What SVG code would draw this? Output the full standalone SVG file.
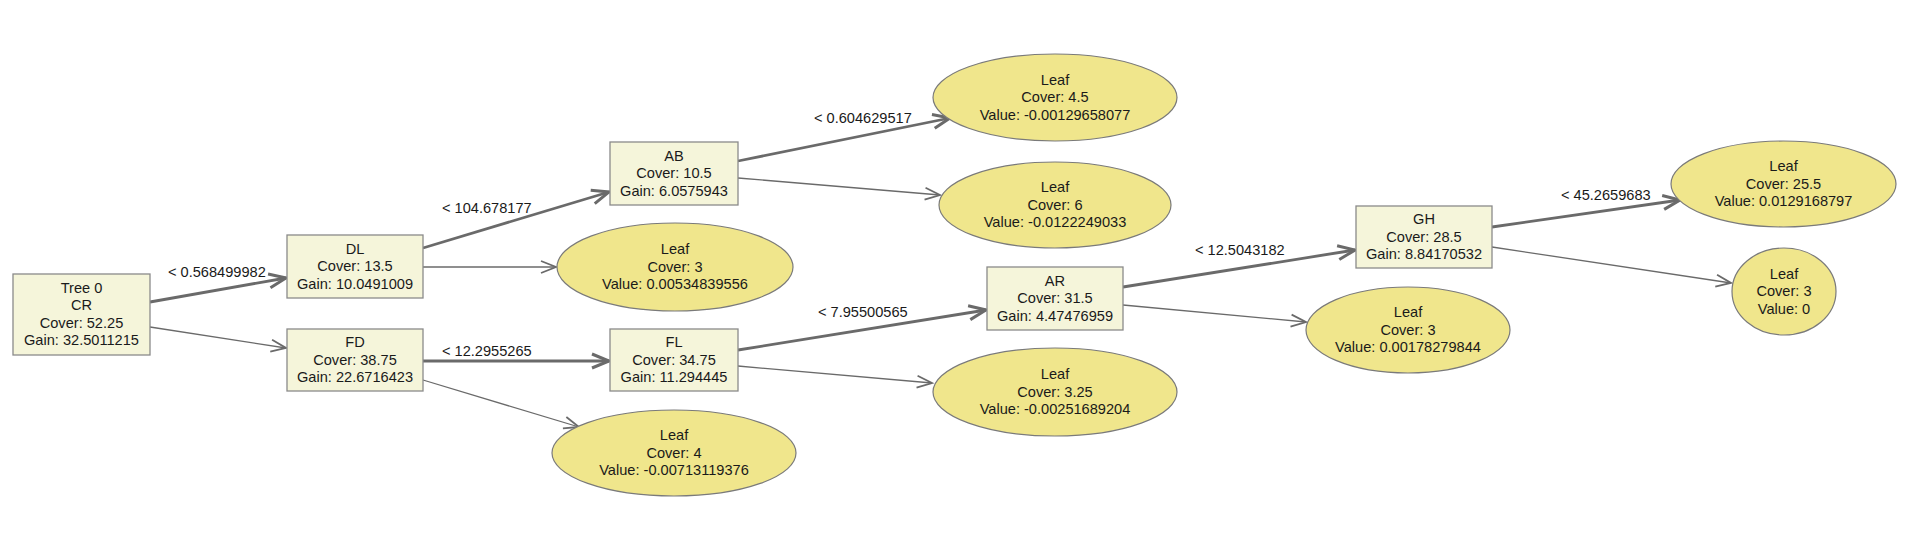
<svg xmlns="http://www.w3.org/2000/svg" width="1910" height="555" viewBox="0 0 1910 555">
<style>
text{font-family:"Liberation Sans",Arial,sans-serif;font-size:14.6px;fill:#1a1a1a}
.n text,.l text{text-anchor:middle}
.n rect{fill:#f5f5da;stroke:#8a8a8a;stroke-width:1.3}
.l ellipse{fill:#f0e68c;stroke:#7a7a7a;stroke-width:1.2}
.yes{stroke:#6a6a6a;stroke-width:2.8;fill:none;marker-end:url(#ahy)}
.no{stroke:#6a6a6a;stroke-width:1.3;fill:none;marker-end:url(#ahn)}
</style>
<defs>
<marker id="ahy" markerUnits="userSpaceOnUse" viewBox="-20 -10 24 20" markerWidth="24" markerHeight="20" refX="0" refY="0" orient="auto" overflow="visible">
<path d="M-17,-7 L0,0 L-17,7" fill="none" stroke="#6a6a6a" stroke-width="3"/>
</marker>
<marker id="ahn" markerUnits="userSpaceOnUse" viewBox="-20 -10 24 20" markerWidth="24" markerHeight="20" refX="0" refY="0" orient="auto" overflow="visible">
<path d="M-15,-6 L0,0 L-15,6" fill="none" stroke="#6a6a6a" stroke-width="1.8"/>
</marker>
</defs>
<rect width="1910" height="555" fill="#ffffff"/>
<g id="connectors">
<line class="yes" x1="150" y1="302" x2="286" y2="278"/>
<line class="no" x1="150" y1="327" x2="286" y2="348"/>
<line class="yes" x1="423" y1="248" x2="609" y2="192"/>
<line class="no" x1="423" y1="267" x2="556" y2="267"/>
<line class="yes" x1="423" y1="361" x2="609" y2="361"/>
<line class="no" x1="423" y1="380" x2="579" y2="427"/>
<line class="yes" x1="738" y1="161" x2="950" y2="118"/>
<line class="no" x1="738" y1="178" x2="940" y2="195"/>
<line class="yes" x1="738" y1="350" x2="986" y2="310"/>
<line class="no" x1="738" y1="366" x2="932" y2="383"/>
<line class="yes" x1="1123" y1="287" x2="1355" y2="250"/>
<line class="no" x1="1123" y1="305" x2="1306" y2="322"/>
<line class="yes" x1="1492" y1="227" x2="1680" y2="200"/>
<line class="no" x1="1492" y1="247" x2="1731" y2="283"/>
<text x="168" y="277">&lt; 0.568499982</text>
<text x="442" y="213">&lt; 104.678177</text>
<text x="442" y="356">&lt; 12.2955265</text>
<text x="814" y="123">&lt; 0.604629517</text>
<text x="818" y="317">&lt; 7.95500565</text>
<text x="1195" y="255">&lt; 12.5043182</text>
<text x="1561" y="200">&lt; 45.2659683</text>
</g>
<g id="n0" class="n"><rect x="13" y="274" width="137" height="81"/>
<text x="81.5" y="292.75">Tree 0</text><text x="81.5" y="310.25">CR</text><text x="81.5" y="327.75">Cover: 52.25</text><text x="81.5" y="345.25">Gain: 32.5011215</text></g>
<g id="n_dl" class="n"><rect x="287" y="235" width="136" height="63"/>
<text x="355" y="253.5">DL</text><text x="355" y="271">Cover: 13.5</text><text x="355" y="288.5">Gain: 10.0491009</text></g>
<g id="n_fd" class="n"><rect x="287" y="329" width="136" height="62"/>
<text x="355" y="347">FD</text><text x="355" y="364.5">Cover: 38.75</text><text x="355" y="382">Gain: 22.6716423</text></g>
<g id="n_ab" class="n"><rect x="610" y="142" width="128" height="63"/>
<text x="674" y="160.5">AB</text><text x="674" y="178">Cover: 10.5</text><text x="674" y="195.5">Gain: 6.0575943</text></g>
<g id="n_fl" class="n"><rect x="610" y="329" width="128" height="62"/>
<text x="674" y="347">FL</text><text x="674" y="364.5">Cover: 34.75</text><text x="674" y="382">Gain: 11.294445</text></g>
<g id="n_ar" class="n"><rect x="987" y="267" width="136" height="63"/>
<text x="1055" y="285.5">AR</text><text x="1055" y="303">Cover: 31.5</text><text x="1055" y="320.5">Gain: 4.47476959</text></g>
<g id="n_gh" class="n"><rect x="1356" y="206" width="136" height="62"/>
<text x="1424" y="224">GH</text><text x="1424" y="241.5">Cover: 28.5</text><text x="1424" y="259">Gain: 8.84170532</text></g>
<g id="leaf_dl" class="l"><ellipse cx="675" cy="267" rx="118" ry="44"/>
<text x="675" y="254">Leaf</text><text x="675" y="271.5">Cover: 3</text><text x="675" y="289">Value: 0.00534839556</text></g>
<g id="leaf_fd" class="l"><ellipse cx="674" cy="453" rx="122" ry="43"/>
<text x="674" y="440">Leaf</text><text x="674" y="457.5">Cover: 4</text><text x="674" y="475">Value: -0.00713119376</text></g>
<g id="leaf_ab1" class="l"><ellipse cx="1055" cy="97.5" rx="122" ry="43.5"/>
<text x="1055" y="84.5">Leaf</text><text x="1055" y="102">Cover: 4.5</text><text x="1055" y="119.5">Value: -0.00129658077</text></g>
<g id="leaf_ab2" class="l"><ellipse cx="1055" cy="205" rx="116" ry="43"/>
<text x="1055" y="192">Leaf</text><text x="1055" y="209.5">Cover: 6</text><text x="1055" y="227">Value: -0.0122249033</text></g>
<g id="leaf_fl" class="l"><ellipse cx="1055" cy="392" rx="122" ry="44"/>
<text x="1055" y="379">Leaf</text><text x="1055" y="396.5">Cover: 3.25</text><text x="1055" y="414">Value: -0.00251689204</text></g>
<g id="leaf_ar" class="l"><ellipse cx="1408" cy="330" rx="102" ry="43"/>
<text x="1408" y="317">Leaf</text><text x="1408" y="334.5">Cover: 3</text><text x="1408" y="352">Value: 0.00178279844</text></g>
<g id="leaf_gh1" class="l"><ellipse cx="1783.5" cy="184" rx="112.5" ry="43"/>
<text x="1783.5" y="171">Leaf</text><text x="1783.5" y="188.5">Cover: 25.5</text><text x="1783.5" y="206">Value: 0.0129168797</text></g>
<g id="leaf_gh2" class="l"><ellipse cx="1784" cy="291.5" rx="52" ry="43.5"/>
<text x="1784" y="278.5">Leaf</text><text x="1784" y="296">Cover: 3</text><text x="1784" y="313.5">Value: 0</text></g>
</svg>
